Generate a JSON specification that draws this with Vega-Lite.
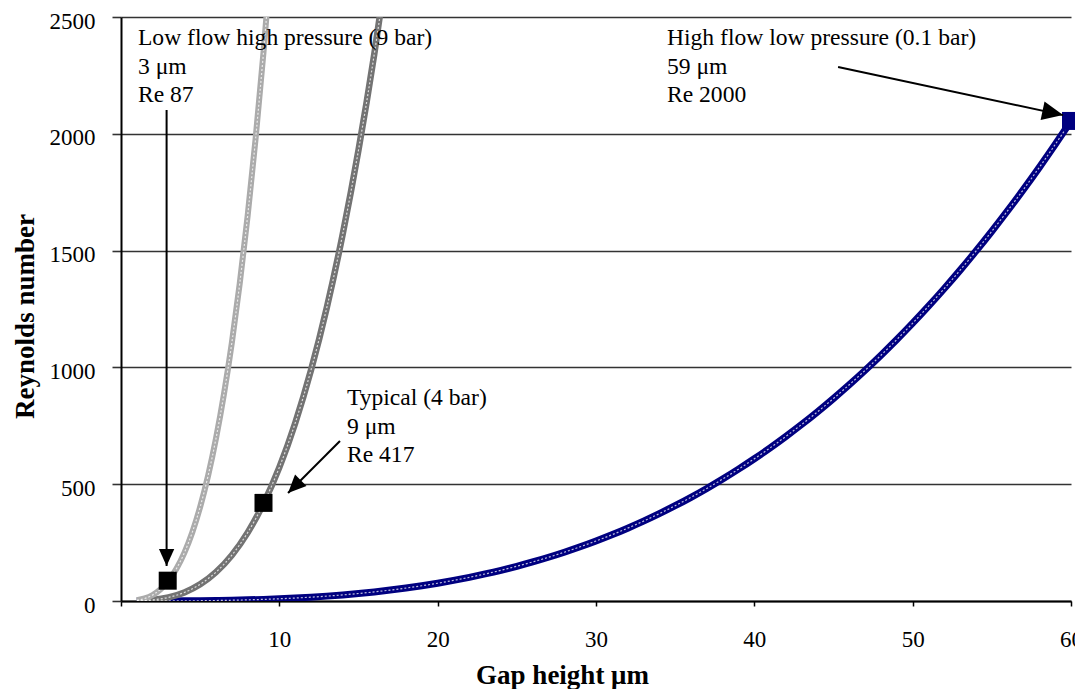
{
  "$schema": "https://vega.github.io/schema/vega-lite/v6.json",
  "width": 950,
  "height": 584,
  "autosize": {"type": "none"},
  "padding": {"left": 121, "top": 17, "right": 4, "bottom": 88},
  "background": "white",
  "config": {"view": {"stroke": null}, "font": "Liberation Serif"},
  "datasets": {
    "curves": [
      {"series": "high", "h": 1, "re": 0.01},
      {"series": "high", "h": 2, "re": 0.08},
      {"series": "high", "h": 3, "re": 0.26},
      {"series": "high", "h": 4, "re": 0.61},
      {"series": "high", "h": 5, "re": 1.19},
      {"series": "high", "h": 6, "re": 2.06},
      {"series": "high", "h": 7, "re": 3.26},
      {"series": "high", "h": 8, "re": 4.87},
      {"series": "high", "h": 9, "re": 6.94},
      {"series": "high", "h": 10, "re": 9.51},
      {"series": "high", "h": 11, "re": 12.66},
      {"series": "high", "h": 12, "re": 16.44},
      {"series": "high", "h": 13, "re": 20.9},
      {"series": "high", "h": 14, "re": 26.11},
      {"series": "high", "h": 15, "re": 32.11},
      {"series": "high", "h": 16, "re": 38.97},
      {"series": "high", "h": 17, "re": 46.74},
      {"series": "high", "h": 18, "re": 55.49},
      {"series": "high", "h": 19, "re": 65.26},
      {"series": "high", "h": 20, "re": 76.11},
      {"series": "high", "h": 21, "re": 88.11},
      {"series": "high", "h": 22, "re": 101.3},
      {"series": "high", "h": 23, "re": 115.8},
      {"series": "high", "h": 24, "re": 131.5},
      {"series": "high", "h": 25, "re": 148.7},
      {"series": "high", "h": 26, "re": 167.2},
      {"series": "high", "h": 27, "re": 187.3},
      {"series": "high", "h": 28, "re": 208.9},
      {"series": "high", "h": 29, "re": 232.0},
      {"series": "high", "h": 30, "re": 256.9},
      {"series": "high", "h": 31, "re": 283.4},
      {"series": "high", "h": 32, "re": 311.8},
      {"series": "high", "h": 33, "re": 341.9},
      {"series": "high", "h": 34, "re": 373.9},
      {"series": "high", "h": 35, "re": 407.9},
      {"series": "high", "h": 36, "re": 443.9},
      {"series": "high", "h": 37, "re": 481.9},
      {"series": "high", "h": 38, "re": 522.1},
      {"series": "high", "h": 39, "re": 564.4},
      {"series": "high", "h": 40, "re": 608.9},
      {"series": "high", "h": 41, "re": 655.7},
      {"series": "high", "h": 42, "re": 704.9},
      {"series": "high", "h": 43, "re": 756.4},
      {"series": "high", "h": 44, "re": 810.4},
      {"series": "high", "h": 45, "re": 867.0},
      {"series": "high", "h": 46, "re": 926.0},
      {"series": "high", "h": 47, "re": 987.8},
      {"series": "high", "h": 48, "re": 1052.2},
      {"series": "high", "h": 49, "re": 1119.3},
      {"series": "high", "h": 50, "re": 1189.3},
      {"series": "high", "h": 51, "re": 1262.0},
      {"series": "high", "h": 52, "re": 1337.7},
      {"series": "high", "h": 53, "re": 1416.4},
      {"series": "high", "h": 54, "re": 1498.1},
      {"series": "high", "h": 55, "re": 1582.9},
      {"series": "high", "h": 56, "re": 1670.8},
      {"series": "high", "h": 57, "re": 1761.9},
      {"series": "high", "h": 58, "re": 1856.3},
      {"series": "high", "h": 59, "re": 1954.0},
      {"series": "high", "h": 60, "re": 2055.0},
      {"series": "typical", "h": 1, "re": 0.57},
      {"series": "typical", "h": 2, "re": 4.58},
      {"series": "typical", "h": 3, "re": 15.44},
      {"series": "typical", "h": 4, "re": 36.61},
      {"series": "typical", "h": 5, "re": 71.5},
      {"series": "typical", "h": 6, "re": 123.6},
      {"series": "typical", "h": 7, "re": 196.2},
      {"series": "typical", "h": 8, "re": 292.9},
      {"series": "typical", "h": 9, "re": 417.0},
      {"series": "typical", "h": 10, "re": 572.0},
      {"series": "typical", "h": 11, "re": 761.4},
      {"series": "typical", "h": 12, "re": 988.5},
      {"series": "typical", "h": 13, "re": 1256.7},
      {"series": "typical", "h": 14, "re": 1569.6},
      {"series": "typical", "h": 15, "re": 1930.6},
      {"series": "typical", "h": 16, "re": 2343.0},
      {"series": "typical", "h": 17, "re": 2810.3},
      {"series": "low", "h": 1, "re": 3.22},
      {"series": "low", "h": 1.5, "re": 10.87},
      {"series": "low", "h": 2, "re": 25.78},
      {"series": "low", "h": 2.5, "re": 50.35},
      {"series": "low", "h": 3, "re": 87.0},
      {"series": "low", "h": 3.5, "re": 138.1},
      {"series": "low", "h": 4, "re": 206.2},
      {"series": "low", "h": 4.5, "re": 293.6},
      {"series": "low", "h": 5, "re": 402.8},
      {"series": "low", "h": 5.5, "re": 536.1},
      {"series": "low", "h": 6, "re": 696.0},
      {"series": "low", "h": 6.5, "re": 884.9},
      {"series": "low", "h": 7, "re": 1105.2},
      {"series": "low", "h": 7.5, "re": 1359.3},
      {"series": "low", "h": 8, "re": 1649.7},
      {"series": "low", "h": 8.5, "re": 1978.8},
      {"series": "low", "h": 9, "re": 2349.0},
      {"series": "low", "h": 9.5, "re": 2762.5}
    ],
    "markers": [
      {"series": "low", "h": 2.95, "re": 87},
      {"series": "typical", "h": 9, "re": 420},
      {"series": "high", "h": 60, "re": 2055}
    ],
    "arrows": [
      {"name": "low", "h0": 2.88, "re0": 2102, "h": 2.88, "re": 150},
      {"name": "typical", "h0": 13.83, "re0": 685, "h": 10.55, "re": 462},
      {"name": "high", "h0": 45.29, "re0": 2286, "h": 59.5, "re": 2080}
    ],
    "notes": [
      {"label": "Low flow high pressure (9 bar)\n3 μm\nRe 87", "h": 1.07, "re": 2380},
      {"label": "Typical (4 bar)\n9 μm\nRe 417", "h": 14.27, "re": 839},
      {"label": "High flow low pressure (0.1 bar)\n59 μm\nRe 2000", "h": 34.48, "re": 2378}
    ]
  },
  "encoding": {
    "x": {
      "field": "h",
      "type": "quantitative",
      "scale": {"domain": [0, 60], "nice": false, "zero": true},
      "axis": {
        "title": "Gap height μm",
        "titleFont": "Liberation Serif",
        "titleFontSize": 27,
        "titleFontWeight": "bold",
        "titleColor": "black",
        "titleX": 441,
        "titleY": 82,
        "titleBaseline": "alphabetic",
        "titleAlign": "center",
        "values": [0, 10, 20, 30, 40, 50, 60],
        "labelExpr": "datum.value == 0 ? '' : datum.label",
        "labelFont": "Liberation Serif",
        "labelFontSize": 23,
        "labelColor": "black",
        "labelBaseline": "alphabetic",
        "labelPadding": 40,
        "labelFlush": false,
        "labelOverlap": false,
        "tickSize": 5,
        "tickColor": "black",
        "tickWidth": 1.5,
        "domainColor": "black",
        "domainWidth": 2,
        "grid": false
      }
    },
    "y": {
      "field": "re",
      "type": "quantitative",
      "scale": {"domain": [0, 2500], "nice": false},
      "axis": {
        "title": "Reynolds number",
        "titleFont": "Liberation Serif",
        "titleFontSize": 27,
        "titleFontWeight": "bold",
        "titleColor": "black",
        "titleAngle": -90,
        "titleX": -88,
        "titleY": 299,
        "titleBaseline": "alphabetic",
        "titleAlign": "center",
        "values": [0, 500, 1000, 1500, 2000, 2500],
        "format": "d",
        "labelFont": "Liberation Serif",
        "labelFontSize": 23,
        "labelColor": "black",
        "labelBaseline": "alphabetic",
        "labelOffset": 11,
        "labelPadding": 17,
        "labelOverlap": false,
        "tickSize": 9,
        "tickColor": "#333333",
        "tickWidth": 1.6,
        "grid": true,
        "gridColor": "#333333",
        "gridWidth": 1.6,
        "gridOpacity": 1,
        "domainColor": "black",
        "domainWidth": 2
      }
    }
  },
  "layer": [
    {
      "data": {"name": "curves"},
      "mark": {"type": "line", "interpolate": "monotone", "clip": true},
      "encoding": {
        "color": {
          "field": "series",
          "type": "nominal",
          "scale": {"domain": ["low", "typical", "high"], "range": ["#ABABAB", "#737373", "#000080"]},
          "legend": null
        },
        "strokeWidth": {
          "field": "series",
          "type": "nominal",
          "scale": {"domain": ["low", "typical", "high"], "range": [6, 7, 5]},
          "legend": null
        }
      }
    },
    {
      "data": {"name": "curves"},
      "mark": {"type": "line", "strokeWidth": 1.2, "interpolate": "monotone", "clip": true, "color": "white", "strokeDash": [2, 2], "opacity": 0.75},
      "encoding": {"detail": {"field": "series", "type": "nominal"}}
    },
    {
      "data": {"name": "markers"},
      "transform": [{"filter": "datum.series != 'high'"}],
      "mark": {"type": "point", "shape": "square", "filled": true, "color": "black", "size": 324, "opacity": 1}
    },
    {
      "data": {"name": "markers"},
      "transform": [{"filter": "datum.series == 'high'"}],
      "mark": {"type": "point", "shape": "square", "filled": true, "color": "#000080", "size": 324, "opacity": 1}
    },
    {
      "data": {"name": "arrows"},
      "mark": {"type": "rule", "color": "black", "strokeWidth": 2},
      "encoding": {
        "x2": {"field": "h0"},
        "y2": {"field": "re0"}
      }
    },
    {
      "data": {"name": "arrows"},
      "transform": [{"filter": "datum.name == 'low'"}],
      "mark": {"type": "point", "shape": "M0,0L0.9,2L-0.9,2Z", "filled": true, "color": "black", "size": 289, "angle": 180, "opacity": 1}
    },
    {
      "data": {"name": "arrows"},
      "transform": [{"filter": "datum.name == 'typical'"}],
      "mark": {"type": "point", "shape": "M0,0L0.9,2L-0.9,2Z", "filled": true, "color": "black", "size": 324, "angle": 225, "opacity": 1}
    },
    {
      "data": {"name": "arrows"},
      "transform": [{"filter": "datum.name == 'high'"}],
      "mark": {"type": "point", "shape": "M0,0L0.9,2L-0.9,2Z", "filled": true, "color": "black", "size": 440, "angle": 102, "opacity": 1}
    },
    {
      "data": {"name": "notes"},
      "mark": {"type": "text", "align": "left", "baseline": "alphabetic", "font": "Liberation Serif", "fontSize": 23.6, "lineBreak": "\n", "lineHeight": 28.5, "color": "black"},
      "encoding": {"text": {"field": "label", "type": "nominal"}}
    }
  ]
}
